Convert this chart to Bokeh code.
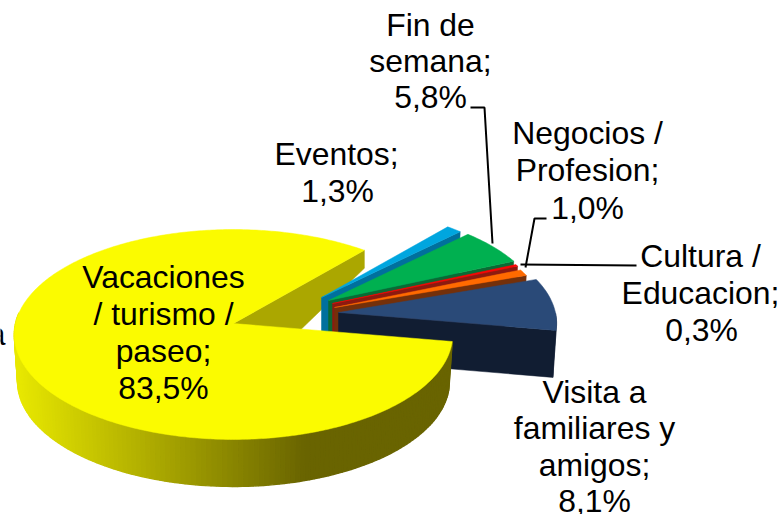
import math
from bokeh.plotting import figure
from bokeh.embed import file_html
from bokeh.resources import INLINE
from bokeh.core.properties import value

categories = ["Vacaciones / turismo / paseo", "Eventos", "Fin de semana",
              "Cultura / Educacion", "Negocios / Profesion", "Visita a familiares y amigos"]
percentages = [83.5, 1.3, 5.8, 0.3, 1.0, 8.1]
top_colors = ["#fbfb00", "#00a6df", "#00b050", "#fa0505", "#ff6a00", "#2a4a78"]
side_colors = ["#aba700", "#00709d", "#0a6a34", "#8c1a10", "#74300a", "#111d32"]

label_lines = [
    ("Vacaciones", 163, 288), ("/ turismo /", 163, 325), ("paseo;", 163, 362), ("83,5%", 163, 399),
    ("Eventos;", 336, 165), ("1,3%", 337, 202),
    ("Fin de", 430, 36), ("semana;", 430, 72), ("5,8%", 430, 108),
    ("Negocios /", 587, 144), ("Profesion;", 587, 181), ("1,0%", 587, 219),
    ("Cultura /", 700, 267), ("Educacion;", 700, 304), ("0,3%", 701, 341),
    ("Visita a", 594, 403), ("familiares y", 594, 439), ("amigos;", 594, 476), ("8,1%", 594, 512),
]
clipped_label = ("a", 5, 345)
leaders = [
    ([470, 484, 492], [107, 107, 243]),
    ([546, 534, 525], [218, 218, 267]),
    ([520, 636], [264, 265]),
]

# projection of the tilted disc, in page pixels
START_DEG = 9.8
K, A, B = 0.1048, 103.8, 218.0
THICK = 47.0
SHRINK = 0.985
vertices = [(233, 323), (321, 297), (328, 300), (332, 303), (334, 307), (338, 312)]
radius_scale = [1.0, 0.965, 0.97, 0.96, 0.965, 0.995]
TEXT_SHIFT = -12


def rim(theta, vx, vy, rs=1.0):
    u, v = math.cos(theta), math.sin(theta)
    den = 1 - K * v
    return vx + rs * B * u / den, vy + rs * A * v / den


def lower(pt, vx):
    return vx + (pt[0] - vx) * SHRINK, pt[1] + THICK


p = figure(width=783, height=514, x_range=(0, 783), y_range=(514, 0),
           toolbar_location=None, output_backend="svg", min_border=0)
p.axis.visible = False
p.grid.visible = False
p.outline_line_color = None

angles = []
cur = math.radians(START_DEG)
for pc in percentages:
    nxt = cur + pc / 100 * 2 * math.pi
    angles.append((cur, nxt))
    cur = nxt

# back cut face of the big slice
vx, vy = vertices[0]
end0 = angles[0][1]
rp = rim(end0, vx, vy)
p.patch([vx, rp[0], rp[0], vx], [vy, rp[1], rp[1] + 18, vy + 71],
        fill_color=side_colors[0], line_color=side_colors[0], line_width=0.5)

# the small exploded slices, back to front
for i in range(1, len(percentages)):
    vx, vy = vertices[i]
    a0, a1 = angles[i]
    n = max(4, int((a1 - a0) / 0.02))
    arc = [rim(a0 + (a1 - a0) * j / n, vx, vy, radius_scale[i]) for j in range(n + 1)]
    end = arc[-1]
    # cut face
    cut = [(vx, vy), end, lower(end, vx), lower((vx, vy), vx)]
    p.patch([q[0] for q in cut], [q[1] for q in cut],
            fill_color=side_colors[i], line_color=side_colors[i], line_width=0.5)
    # any rim part that faces the viewer
    front = [q for j, q in enumerate(arc) if math.sin(a0 + (a1 - a0) * j / n) > 0]
    if len(front) > 1:
        face = front + [lower(q, vx) for q in front[::-1]]
        p.patch([q[0] for q in face], [q[1] for q in face],
                fill_color=side_colors[i], line_color=side_colors[i], line_width=0.5)
    top = [(vx, vy)] + arc
    p.patch([q[0] for q in top], [q[1] for q in top],
            fill_color=top_colors[i], line_color=top_colors[i], line_width=0.5)

# gradient side of the big slice
vx, vy = vertices[0]
a0 = angles[0][0]
a_stop = math.radians(186)
N = 140
xs, ys, cols = [], [], []
for j in range(N):
    t0 = a0 + (a_stop - a0) * j / N
    t1 = a0 + (a_stop - a0) * (j + 1) / N
    q0, q1 = rim(t0, vx, vy), rim(t1, vx, vy)
    l0, l1 = lower(q0, vx), lower(q1, vx)
    xs.append([q0[0], q1[0], l1[0], l0[0]])
    ys.append([q0[1], q1[1], l1[1], l0[1]])
    mid = (q0[0] + q1[0]) / 2
    f = min(1, max(0, (mid - 15) / (305 - 15)))
    cols.append("#%02x%02x00" % (round(232 + (105 - 232) * f), round(232 + (100 - 232) * f)))
p.patches(xs, ys, fill_color=cols, line_color=cols, line_width=1.4)

# top of the big slice
a1 = angles[0][1]
n = 400
arc = [rim(a0 + (a1 - a0) * j / n, vx, vy) for j in range(n + 1)]
top = [(vx, vy)] + arc
p.patch([q[0] for q in top], [q[1] for q in top], fill_color=top_colors[0],
        line_color=top_colors[0], line_width=0.5)

# leader lines
for lx, ly in leaders:
    p.line(lx, ly, line_color="#000000", line_width=2)

# labels
p.text([l[1] for l in label_lines], [l[2] + TEXT_SHIFT for l in label_lines], text=[l[0] for l in label_lines],
       text_font=value("Liberation Sans"), text_font_size="31.9px", text_color="#000000",
       text_align="center", text_baseline="alphabetic")
p.text([clipped_label[1]], [clipped_label[2] + TEXT_SHIFT], text=[clipped_label[0]],
       text_font=value("Liberation Sans"), text_font_size="31.9px", text_color="#000000",
       text_align="right", text_baseline="alphabetic")

open("out.html", "w").write(file_html(p, INLINE))
